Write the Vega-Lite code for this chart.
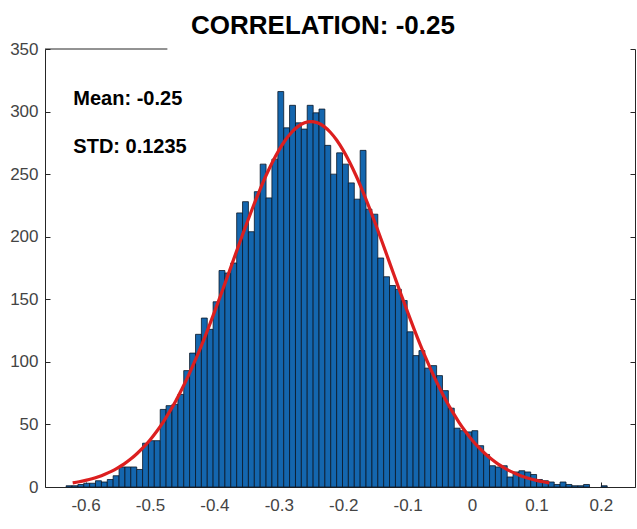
{
  "$schema": "https://vega.github.io/schema/vega-lite/v6.json",
  "width": 590,
  "height": 438,
  "autosize": "none",
  "padding": {"left": 45, "top": 49, "right": 2, "bottom": 42},
  "background": "white",
  "config": {
    "view": {"stroke": null},
    "font": "Liberation Sans",
    "axis": {
      "grid": false,
      "title": null,
      "labelFont": "Liberation Sans",
      "labelFontSize": 17,
      "labelColor": "#444444",
      "domainColor": "#262626",
      "tickColor": "#262626",
      "domainWidth": 1,
      "tickWidth": 1,
      "labelFlush": false
    }
  },
  "title": {
    "text": "CORRELATION: -0.25",
    "font": "Liberation Sans",
    "fontSize": 26,
    "fontWeight": "bold",
    "color": "#000000",
    "anchor": "middle",
    "frame": "group",
    "baseline": "alphabetic",
    "offset": 13,
    "dx": -17,
    "dy": 33
  },
  "datasets": {
    "bins": [
      {"x0": -0.6302, "x1": -0.6211, "n": 1},
      {"x0": -0.6211, "x1": -0.6119, "n": 1},
      {"x0": -0.6119, "x1": -0.6028, "n": 2},
      {"x0": -0.6028, "x1": -0.5937, "n": 3},
      {"x0": -0.5937, "x1": -0.5846, "n": 3},
      {"x0": -0.5846, "x1": -0.5754, "n": 5},
      {"x0": -0.5754, "x1": -0.5663, "n": 4},
      {"x0": -0.5663, "x1": -0.5572, "n": 6},
      {"x0": -0.5572, "x1": -0.548, "n": 9},
      {"x0": -0.548, "x1": -0.5389, "n": 16},
      {"x0": -0.5389, "x1": -0.5298, "n": 16},
      {"x0": -0.5298, "x1": -0.5206, "n": 16},
      {"x0": -0.5206, "x1": -0.5115, "n": 14},
      {"x0": -0.5115, "x1": -0.5024, "n": 35},
      {"x0": -0.5024, "x1": -0.4933, "n": 37},
      {"x0": -0.4933, "x1": -0.4841, "n": 37},
      {"x0": -0.4841, "x1": -0.475, "n": 62},
      {"x0": -0.475, "x1": -0.4659, "n": 65},
      {"x0": -0.4659, "x1": -0.4567, "n": 66},
      {"x0": -0.4567, "x1": -0.4476, "n": 74},
      {"x0": -0.4476, "x1": -0.4385, "n": 93},
      {"x0": -0.4385, "x1": -0.4293, "n": 107},
      {"x0": -0.4293, "x1": -0.4202, "n": 122},
      {"x0": -0.4202, "x1": -0.4111, "n": 135},
      {"x0": -0.4111, "x1": -0.402, "n": 126},
      {"x0": -0.402, "x1": -0.3928, "n": 148},
      {"x0": -0.3928, "x1": -0.3837, "n": 173},
      {"x0": -0.3837, "x1": -0.3746, "n": 171},
      {"x0": -0.3746, "x1": -0.3654, "n": 179},
      {"x0": -0.3654, "x1": -0.3563, "n": 219},
      {"x0": -0.3563, "x1": -0.3472, "n": 228},
      {"x0": -0.3472, "x1": -0.338, "n": 204},
      {"x0": -0.338, "x1": -0.3289, "n": 236},
      {"x0": -0.3289, "x1": -0.3198, "n": 258},
      {"x0": -0.3198, "x1": -0.3107, "n": 231},
      {"x0": -0.3107, "x1": -0.3015, "n": 262},
      {"x0": -0.3015, "x1": -0.2924, "n": 316},
      {"x0": -0.2924, "x1": -0.2833, "n": 287},
      {"x0": -0.2833, "x1": -0.2741, "n": 305},
      {"x0": -0.2741, "x1": -0.265, "n": 291},
      {"x0": -0.265, "x1": -0.2559, "n": 286},
      {"x0": -0.2559, "x1": -0.2467, "n": 305},
      {"x0": -0.2467, "x1": -0.2376, "n": 299},
      {"x0": -0.2376, "x1": -0.2285, "n": 302},
      {"x0": -0.2285, "x1": -0.2194, "n": 273},
      {"x0": -0.2194, "x1": -0.2102, "n": 250},
      {"x0": -0.2102, "x1": -0.2011, "n": 267},
      {"x0": -0.2011, "x1": -0.192, "n": 258},
      {"x0": -0.192, "x1": -0.1828, "n": 243},
      {"x0": -0.1828, "x1": -0.1737, "n": 230},
      {"x0": -0.1737, "x1": -0.1646, "n": 269},
      {"x0": -0.1646, "x1": -0.1554, "n": 222},
      {"x0": -0.1554, "x1": -0.1463, "n": 218},
      {"x0": -0.1463, "x1": -0.1372, "n": 183},
      {"x0": -0.1372, "x1": -0.1281, "n": 168},
      {"x0": -0.1281, "x1": -0.1189, "n": 161},
      {"x0": -0.1189, "x1": -0.1098, "n": 158},
      {"x0": -0.1098, "x1": -0.1007, "n": 149},
      {"x0": -0.1007, "x1": -0.0915, "n": 124},
      {"x0": -0.0915, "x1": -0.0824, "n": 105},
      {"x0": -0.0824, "x1": -0.0733, "n": 109},
      {"x0": -0.0733, "x1": -0.0641, "n": 95},
      {"x0": -0.0641, "x1": -0.055, "n": 97},
      {"x0": -0.055, "x1": -0.0459, "n": 89},
      {"x0": -0.0459, "x1": -0.0368, "n": 77},
      {"x0": -0.0368, "x1": -0.0276, "n": 63},
      {"x0": -0.0276, "x1": -0.0185, "n": 47},
      {"x0": -0.0185, "x1": -0.0094, "n": 45},
      {"x0": -0.0094, "x1": -0.0002, "n": 44},
      {"x0": -0.0002, "x1": 0.0089, "n": 45},
      {"x0": 0.0089, "x1": 0.018, "n": 33},
      {"x0": 0.018, "x1": 0.0272, "n": 26},
      {"x0": 0.0272, "x1": 0.0363, "n": 17},
      {"x0": 0.0363, "x1": 0.0454, "n": 16},
      {"x0": 0.0454, "x1": 0.0546, "n": 17},
      {"x0": 0.0546, "x1": 0.0637, "n": 8},
      {"x0": 0.0637, "x1": 0.0728, "n": 12},
      {"x0": 0.0728, "x1": 0.0819, "n": 13},
      {"x0": 0.0819, "x1": 0.0911, "n": 12},
      {"x0": 0.0911, "x1": 0.1002, "n": 10},
      {"x0": 0.1002, "x1": 0.1093, "n": 6},
      {"x0": 0.1093, "x1": 0.1185, "n": 5},
      {"x0": 0.1185, "x1": 0.1276, "n": 4},
      {"x0": 0.1276, "x1": 0.1367, "n": 2},
      {"x0": 0.1367, "x1": 0.1459, "n": 4},
      {"x0": 0.1459, "x1": 0.155, "n": 2},
      {"x0": 0.155, "x1": 0.1641, "n": 1},
      {"x0": 0.1641, "x1": 0.1732, "n": 1},
      {"x0": 0.1732, "x1": 0.1824, "n": 2},
      {"x0": 0.2006, "x1": 0.2098, "n": 1}
    ],
    "fit": [
      {"x": -0.62, "y": 3.3}, {"x": -0.61, "y": 4.2}, {"x": -0.6, "y": 5.3},
      {"x": -0.59, "y": 6.6}, {"x": -0.58, "y": 8.2}, {"x": -0.57, "y": 10.2},
      {"x": -0.56, "y": 12.5}, {"x": -0.55, "y": 15.3}, {"x": -0.54, "y": 18.5},
      {"x": -0.53, "y": 22.3}, {"x": -0.52, "y": 26.8}, {"x": -0.51, "y": 31.8},
      {"x": -0.5, "y": 37.6}, {"x": -0.49, "y": 44.2}, {"x": -0.48, "y": 51.5},
      {"x": -0.47, "y": 59.8}, {"x": -0.46, "y": 68.8}, {"x": -0.45, "y": 78.7},
      {"x": -0.44, "y": 89.4}, {"x": -0.43, "y": 100.9}, {"x": -0.42, "y": 113.2},
      {"x": -0.41, "y": 126.2}, {"x": -0.4, "y": 139.7}, {"x": -0.39, "y": 153.6},
      {"x": -0.38, "y": 167.8}, {"x": -0.37, "y": 182.1}, {"x": -0.36, "y": 196.4},
      {"x": -0.35, "y": 210.4}, {"x": -0.34, "y": 223.9}, {"x": -0.33, "y": 236.7},
      {"x": -0.32, "y": 248.7}, {"x": -0.31, "y": 259.5}, {"x": -0.3, "y": 269.0},
      {"x": -0.29, "y": 277.1}, {"x": -0.28, "y": 283.5}, {"x": -0.27, "y": 288.2},
      {"x": -0.26, "y": 291.0}, {"x": -0.25, "y": 292.0}, {"x": -0.24, "y": 291.0},
      {"x": -0.23, "y": 288.2}, {"x": -0.22, "y": 283.5}, {"x": -0.21, "y": 277.1},
      {"x": -0.2, "y": 269.0}, {"x": -0.19, "y": 259.5}, {"x": -0.18, "y": 248.7},
      {"x": -0.17, "y": 236.7}, {"x": -0.16, "y": 223.9}, {"x": -0.15, "y": 210.4},
      {"x": -0.14, "y": 196.4}, {"x": -0.13, "y": 182.1}, {"x": -0.12, "y": 167.8},
      {"x": -0.11, "y": 153.6}, {"x": -0.1, "y": 139.7}, {"x": -0.09, "y": 126.2},
      {"x": -0.08, "y": 113.2}, {"x": -0.07, "y": 100.9}, {"x": -0.06, "y": 89.4},
      {"x": -0.05, "y": 78.7}, {"x": -0.04, "y": 68.8}, {"x": -0.03, "y": 59.8},
      {"x": -0.02, "y": 51.5}, {"x": -0.01, "y": 44.2}, {"x": 0.0, "y": 37.6},
      {"x": 0.01, "y": 31.8}, {"x": 0.02, "y": 26.8}, {"x": 0.03, "y": 22.3},
      {"x": 0.04, "y": 18.5}, {"x": 0.05, "y": 15.3}, {"x": 0.06, "y": 12.5},
      {"x": 0.07, "y": 10.2}, {"x": 0.08, "y": 8.2}, {"x": 0.09, "y": 6.6},
      {"x": 0.1, "y": 5.3}, {"x": 0.11, "y": 4.2}, {"x": 0.12, "y": 3.3}
    ],
    "notes": [
      {"label": "Mean: -0.25", "x": -0.619, "y": 305},
      {"label": "STD: 0.1235", "x": -0.619, "y": 266.5}
    ],
    "frame": [
      {"x0": -0.663, "x1": -0.473, "y": 350}
    ]
  },
  "resolve": {"axis": {"y": "independent"}},
  "layer": [
    {
      "data": {"name": "bins"},
      "mark": {"type": "rect", "fill": "#1466ae", "stroke": "#0a1626", "strokeWidth": 0.8},
      "encoding": {
        "x": {
          "field": "x0",
          "type": "quantitative",
          "scale": {"domain": [-0.663, 0.253], "nice": false, "zero": false},
          "axis": {
            "orient": "bottom",
            "values": [-0.6, -0.5, -0.4, -0.3, -0.2, -0.1, 0, 0.1, 0.2],
            "labelExpr": "'' + datum.value",
            "tickSize": -5,
            "labelPadding": 15
          }
        },
        "x2": {"field": "x1"},
        "y": {
          "field": "n",
          "type": "quantitative",
          "scale": {"domain": [0, 350], "nice": false},
          "axis": {
            "orient": "left",
            "values": [0, 50, 100, 150, 200, 250, 300, 350],
            "tickSize": -5,
            "labelPadding": 12
          }
        },
        "y2": {"datum": 0}
      }
    },
    {
      "data": {"name": "fit"},
      "mark": {"type": "line", "color": "#dc1f1f", "strokeWidth": 3.2, "interpolate": "monotone"},
      "encoding": {
        "x": {"field": "x", "type": "quantitative"},
        "y": {"field": "y", "type": "quantitative", "axis": null}
      }
    },
    {
      "data": {"name": "notes"},
      "mark": {
        "type": "text",
        "font": "Liberation Sans",
        "fontSize": 20,
        "fontWeight": "bold",
        "color": "#000000",
        "align": "left",
        "baseline": "alphabetic"
      },
      "encoding": {
        "x": {"field": "x", "type": "quantitative"},
        "y": {"field": "y", "type": "quantitative", "axis": null},
        "text": {"field": "label"}
      }
    },
    {
      "data": {"name": "frame"},
      "mark": {"type": "rule", "color": "#262626", "strokeWidth": 1},
      "encoding": {
        "x": {"field": "x0", "type": "quantitative"},
        "x2": {"field": "x1"},
        "y": {
          "field": "y",
          "type": "quantitative",
          "axis": {
            "orient": "right",
            "values": [0, 50, 100, 150, 200, 250, 300, 350],
            "labels": false,
            "tickSize": -5
          }
        }
      }
    }
  ]
}
